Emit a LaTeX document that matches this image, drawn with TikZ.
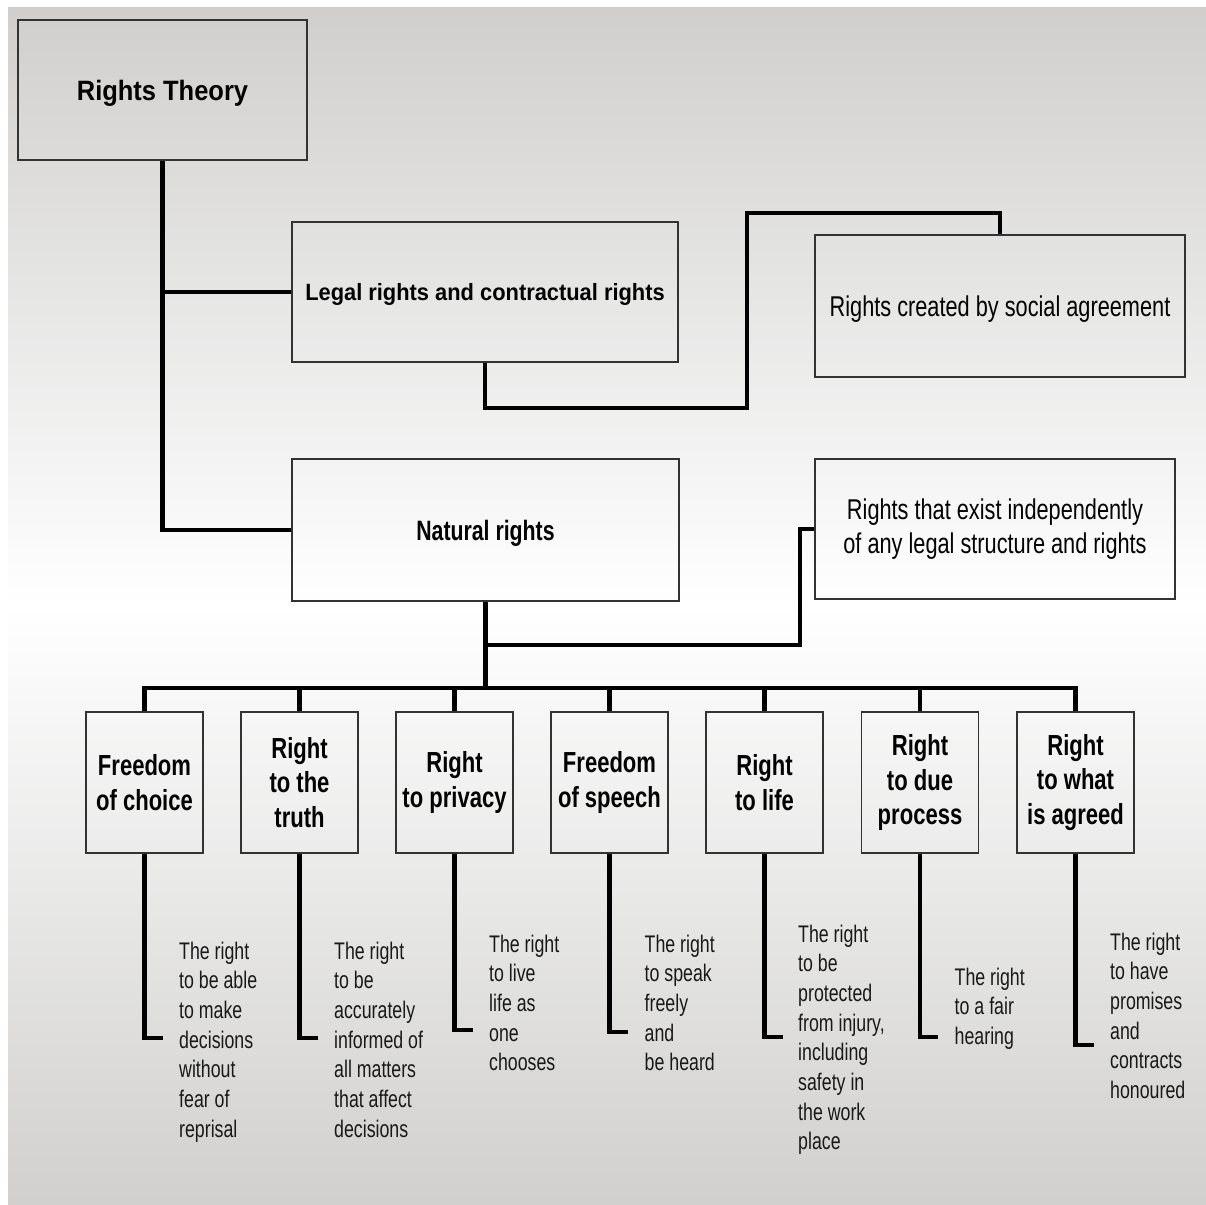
\documentclass[tikz,border=0pt]{standalone}
\usepackage{fontspec}
\setmainfont{Liberation Sans}
% Condensed cuts of the same sans family
\newfontfamily\titlefont[FakeStretch=0.91]{Liberation Sans}
\newfontfamily\legalfont[FakeStretch=0.93]{Liberation Sans}
\newfontfamily\narrowfont[FakeStretch=0.76]{Liberation Sans}
\newfontfamily\notefont[FakeStretch=0.74]{Liberation Sans}
\definecolor{bggray}{RGB}{208,207,206}

\begin{document}
\begin{tikzpicture}[x=1pt, y=-1pt,
  box/.style={draw=black!80, line width=1.5pt, inner sep=0pt, align=center, text=black},
  onebox/.style={box, text depth=0pt},
  rightbox/.style={box, minimum width=117pt, minimum height=141pt,
    font=\narrowfont\bfseries\fontsize{29}{34.5}\selectfont},
  note/.style={anchor=base west, inner sep=0pt, text=black!90,
    font=\notefont\fontsize{24}{29.7}\selectfont},
  conn/.style={line width=4.5pt, black, line join=miter}]

\useasboundingbox (0,0) rectangle (1206,1204);

% background: grey at the top and bottom, white in the middle
\fill[white] (0,0) rectangle (1206,1204);
\shade[top color=bggray, bottom color=white] (8,8) rectangle (1216,606);
\shade[top color=white, bottom color=bggray] (8,605.5) rectangle (1216,1214);

% upper part
\node[onebox, minimum width=289pt, minimum height=140pt,
      font=\titlefont\bfseries\fontsize{28}{32}\selectfont] (rt) at (162.5,90) {Rights Theory};
\node[onebox, minimum width=386pt, minimum height=140pt,
      font=\legalfont\bfseries\fontsize{23.5}{28}\selectfont] (legal) at (485,292) {Legal rights and contractual rights};
\node[onebox, minimum width=370pt, minimum height=142pt,
      font=\narrowfont\fontsize{28.6}{33}\selectfont] (social) at (1000,306) {Rights created by social agreement};
\node[onebox, minimum width=387pt, minimum height=142pt,
      font=\narrowfont\bfseries\fontsize{28}{32}\selectfont] (natural) at (485.5,530) {Natural rights};
\node[box, minimum width=360pt, minimum height=140pt,
      font=\narrowfont\fontsize{28.6}{34.5}\selectfont] (indep) at (995,529) {Rights that exist independently\\of any legal structure and rights};

% the seven natural rights
\node[rightbox] (b1) at (144.5,782.5) {Freedom\\of choice};
\node[rightbox] (b2) at (299.5,782.5) {Right\\to the\\truth};
\node[rightbox] (b3) at (454.5,782.5) {Right\\to privacy};
\node[rightbox] (b4) at (609.5,782.5) {Freedom\\of speech};
\node[rightbox] (b5) at (764.5,782.5) {Right\\to life};
\node[rightbox] (b6) at (920,782.5) {Right\\to due\\process};
\node[rightbox] (b7) at (1075.5,782.5) {Right\\to what\\is agreed};

% explanations under each right
\node[note] (n1) at (179,959) {\begin{tabular}[t]{@{}l@{}}The right\\to be able\\to make\\decisions\\without\\fear of\\reprisal\end{tabular}};
\node[note] (n2) at (334,959) {\begin{tabular}[t]{@{}l@{}}The right\\to be\\accurately\\informed of\\all matters\\that affect\\decisions\end{tabular}};
\node[note] (n3) at (489,952) {\begin{tabular}[t]{@{}l@{}}The right\\to live\\life as\\one\\chooses\end{tabular}};
\node[note] (n4) at (644.5,952) {\begin{tabular}[t]{@{}l@{}}The right\\to speak\\freely\\and\\be heard\end{tabular}};
\node[note] (n5) at (798,942) {\begin{tabular}[t]{@{}l@{}}The right\\to be\\protected\\from injury,\\including\\safety in\\the work\\place\end{tabular}};
\node[note] (n6) at (954.5,985) {\begin{tabular}[t]{@{}l@{}}The right\\to a fair\\hearing\end{tabular}};
\node[note] (n7) at (1110,950) {\begin{tabular}[t]{@{}l@{}}The right\\to have\\promises\\and\\contracts\\honoured\end{tabular}};

% junction points
\coordinate (la) at (747,408);
\coordinate (lb) at (747,213);
\coordinate (nb) at (800,645);
\coordinate (bus) at (485.5,688);
\coordinate (t1) at (163,1038);
\coordinate (t2) at (318,1038);
\coordinate (t3) at (473,1030);
\coordinate (t4) at (628,1032);
\coordinate (t5) at (783,1037);
\coordinate (t6) at (938,1037);
\coordinate (t7) at (1094,1045);

% connectors
\draw[conn] (rt.south) |- (legal.west);
\draw[conn] (rt.south) |- (natural.west);
\draw[conn] (legal.south) |- (la) -- (lb) -| (social.north);
\draw[conn] (natural.south |- nb) -- (nb) |- (indep.west);
\draw[conn] (natural.south) -- (bus);
\draw[conn] (b1.north) -- (b1.north |- bus) -- (b7.north |- bus) -- (b7.north);
\foreach \i in {2,...,6} \draw[conn] (b\i.north) -- (b\i.north |- bus);
\foreach \i in {1,...,7} \draw[conn] (b\i.south) |- (t\i);

\end{tikzpicture}
\end{document}
